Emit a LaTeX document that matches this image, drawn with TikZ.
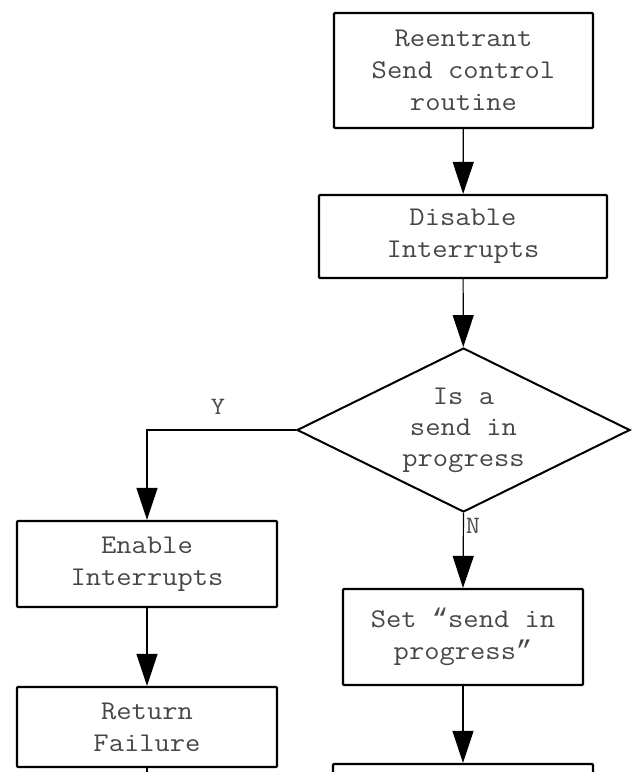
\documentclass[tikz,border=0pt]{standalone}
\usepackage{fontspec}
\setmonofont[FakeStretch=1.1]{Latin Modern Mono}
\newfontfamily\quotefont{Liberation Mono}
\usetikzlibrary{shapes.geometric,arrows.meta}
\begin{document}
\begin{tikzpicture}[x=1pt,y=-1pt,
  txt/.style={font=\ttfamily\fontsize{27}{32}\selectfont, text=black!72},
  box/.style={txt, draw, line width=2.2pt, rounded corners=1pt, align=center, inner sep=0pt},
  decision/.style={txt, draw, diamond, aspect=2, line width=2pt, align=center, inner sep=0pt,
    font=\ttfamily\fontsize{27}{31}\selectfont},
  lbl/.style={font=\ttfamily\fontsize{25}{28}\selectfont, text=black!70, inner sep=0pt},
  conn/.style={line width=1.2pt, -{Triangle[length=32pt,width=21pt]}},
  plain/.style={line width=1.2pt}]
\useasboundingbox (0,0) rectangle (637,772);
\clip (0,0) rectangle (637,772);
\fill[white] (0,0) rectangle (637,772);

\node[box, minimum width=259pt, minimum height=115pt] (b1) at (463.5,70.5) {Reentrant\\Send control\\routine};
\node[box, minimum width=288pt, minimum height=83pt] (b2) at (463,236.5) {Disable\\Interrupts};
\node[decision, minimum width=333pt, minimum height=164pt] (dec) at (463.5,430) {Is a\\send in\\progress};
\node[box, minimum width=260pt, minimum height=86pt] (b3) at (147,564) {Enable\\Interrupts};
\node[box, minimum width=260pt, minimum height=80pt] (b4) at (147,727) {Return\\Failure};
\node[box, minimum width=240pt, minimum height=96pt] (b5) at (463,637) {Set {\quotefont “}send in\\progress{\quotefont ”}};
\node[box, minimum width=260pt, minimum height=100pt] (b6) at (463,814) {};
\coordinate (stub) at (147,800);

\draw[conn] (b1) -- (b2);
\draw[conn] (b2) -- (dec);
\draw[conn] (dec.south) -- (b5.north);
\draw[conn] (dec.west) -| (b3.north);
\draw[conn] (b3) -- (b4);
\draw[conn] (b5) -- (b6);
\draw[plain] (b4.south) -- (stub);

\node[lbl] (ylbl) at (218,407) {Y};
\node[lbl] (nlbl) at (473,526) {N};
\end{tikzpicture}
\end{document}
